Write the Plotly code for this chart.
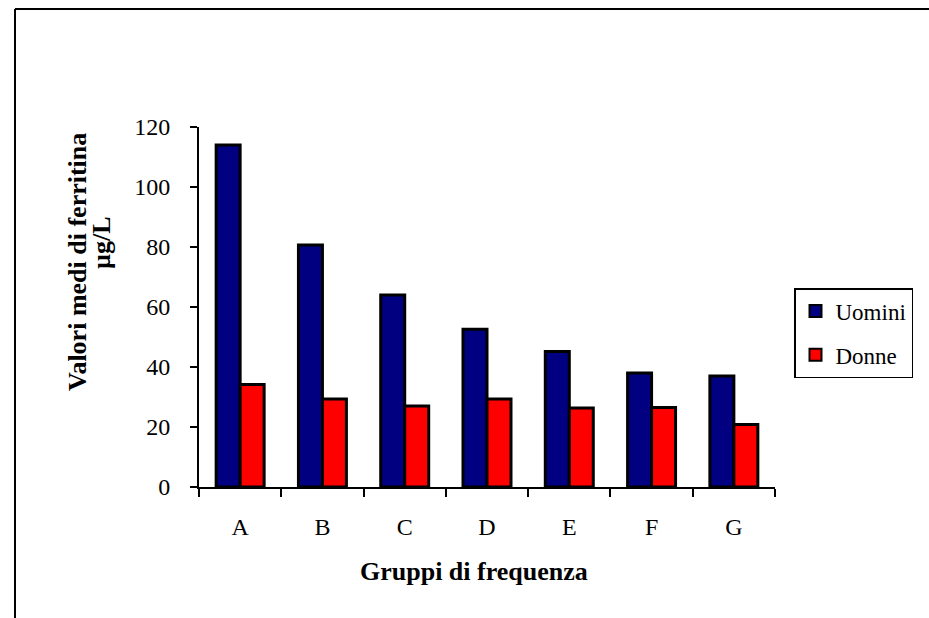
import plotly.graph_objects as go

# Mean ferritin values (µg/L) per frequency group
groups = ["A", "B", "C", "D", "E", "F", "G"]
uomini = [114, 80.7, 64, 52.6, 45.2, 38, 37]
donne = [34.2, 29.3, 27, 29.3, 26.3, 26.5, 20.8]
y_ticks = [0, 20, 40, 60, 80, 100, 120]

SERIF = "Liberation Serif"

fig = go.Figure()
fig.add_trace(go.Bar(
    x=groups, y=uomini, name="Uomini", legendgroup="u",
    marker=dict(color="#000080", line=dict(color="black", width=3)),
))
fig.add_trace(go.Bar(
    x=groups, y=donne, name="Donne", legendgroup="d",
    marker=dict(color="#FF0000", line=dict(color="black", width=3)),
))

# plot area in pixels: x 199..775, y 127..487
L, R, T, B = 199, 775, 127, 487
W, H = 929, 618


def px(x):
    return (x - L) / (R - L)


def py(y):
    return (B - y) / (B - T)


fig.update_layout(
    width=W, height=H,
    margin=dict(l=L, r=W - R, t=T, b=H - B, pad=0),
    paper_bgcolor="white", plot_bgcolor="white",
    barmode="group", bargap=0.417, bargroupgap=0,
    font=dict(family=SERIF, color="black"),
    showlegend=True,
    legend=dict(
        x=px(794), y=py(288), xanchor="left", yanchor="top",
        bordercolor="black", borderwidth=1.5, bgcolor="white",
        font=dict(family=SERIF, size=23, color="black"),
        traceorder="grouped", tracegroupgap=11,
        itemsizing="constant",
    ),
    xaxis=dict(
        showline=True, linecolor="black", linewidth=2,
        ticks="outside", tickson="boundaries", ticklen=8, tickwidth=2,
        tickcolor="black", ticklabelstandoff=17,
        tickfont=dict(family=SERIF, size=24, color="black"),
        showgrid=False, zeroline=False,
    ),
    yaxis=dict(
        range=[0, 120], tickvals=y_ticks,
        showline=True, linecolor="black", linewidth=2,
        ticks="outside", ticklen=7, tickwidth=2, tickcolor="black",
        ticklabelstandoff=15,
        tickfont=dict(family=SERIF, size=24, color="black"),
        showgrid=False, zeroline=False,
    ),
    annotations=[
        dict(
            text="<b>Gruppi di frequenza</b>", xref="paper", yref="paper",
            x=px(474), y=py(571), xanchor="center", yanchor="middle",
            showarrow=False, font=dict(family=SERIF, size=26, color="black"),
        ),
        dict(
            text="<b>Valori medi di ferritina</b>", xref="paper", yref="paper",
            x=px(77), y=py(262), xanchor="center", yanchor="middle",
            textangle=-90, showarrow=False,
            font=dict(family=SERIF, size=26, color="black"),
        ),
        dict(
            text="<b>µg/L</b>", xref="paper", yref="paper",
            x=px(101), y=py(243), xanchor="center", yanchor="middle",
            textangle=-90, showarrow=False,
            font=dict(family=SERIF, size=26, color="black"),
        ),
    ],
    shapes=[
        # outer frame: top and left edges
        dict(type="line", xref="paper", yref="paper",
             x0=px(15), x1=px(W + 5), y0=py(9), y1=py(9),
             line=dict(color="black", width=2)),
        dict(type="line", xref="paper", yref="paper",
             x0=px(15), x1=px(15), y0=py(9), y1=py(H + 5),
             line=dict(color="black", width=2)),
    ],
)

fig.write_html("out.html")
